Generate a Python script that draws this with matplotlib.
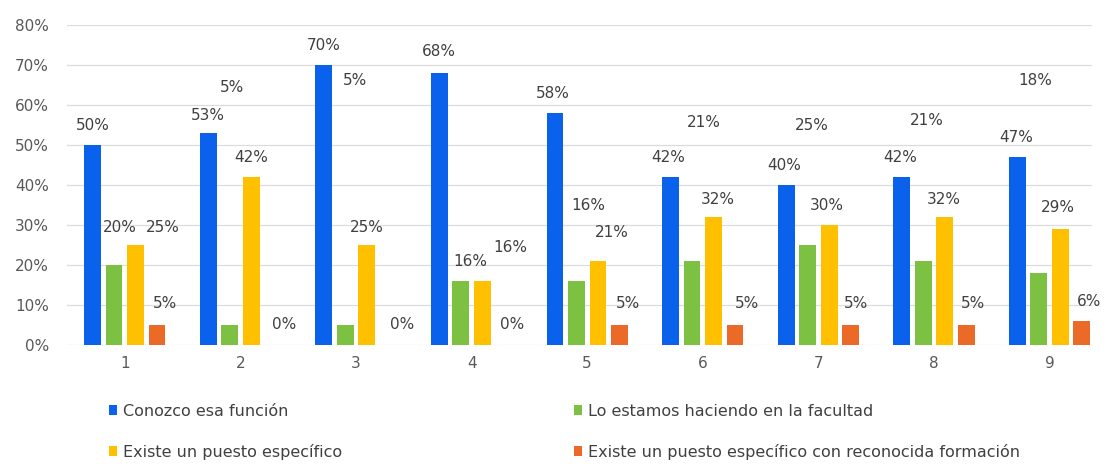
import matplotlib
matplotlib.use("Agg")
import matplotlib.pyplot as plt
from matplotlib.patches import Patch
import numpy as np

categories = ["1", "2", "3", "4", "5", "6", "7", "8", "9"]
series_names = [
    "Conozco esa función",
    "Lo estamos haciendo en la facultad",
    "Existe un puesto específico",
    "Existe un puesto específico con reconocida formación",
]
conozco = [0.50, 0.53, 0.70, 0.68, 0.58, 0.42, 0.40, 0.42, 0.47]
haciendo = [0.20, 0.05, 0.05, 0.16, 0.16, 0.21, 0.25, 0.21, 0.18]
puesto = [0.25, 0.42, 0.25, 0.16, 0.21, 0.32, 0.30, 0.32, 0.29]
formacion = [0.05, 0.00, 0.00, 0.00, 0.05, 0.05, 0.05, 0.05, 0.06]
yticks = [0.0, 0.1, 0.2, 0.3, 0.4, 0.5, 0.6, 0.7, 0.8]

colors = ["#0A62EC", "#7DC143", "#FFC000", "#EC6A28"]

# label offsets (pixels) relative to top-centre of each bar, as positioned in the source
label_dx = [
    [0, 0, 0, 0, -2, -2, -2, -2, -1],
    [6, 2, 10, 9, 12, 12, 4, 4, -4],
    [27, 0, 0, 28, 14, 4, -2, -1, -2],
    [8, 11, 14, 8, 9, 12, 5, 7, 7],
]
label_dy = [
    [20, 18, 20, 21, 20, 20, 20, 20, 20],
    [38, 238, 245, 20, 76, 139, 120, 141, 193],
    [18, 20, 18, 34, 29, 18, 20, 18, 22],
    [21, 21, 21, 21, 21, 21, 21, 21, 19],
]

W, H = 1106, 469
fig = plt.figure(figsize=(W / 100, H / 100), dpi=100)
ax = fig.add_axes([67 / W, 1 - 345 / H, (1092 - 67) / W, (345 - 25) / H])

series = [conozco, haciendo, puesto, formacion]
x = np.arange(1, len(categories) + 1)
pitch = 0.186
width = 0.145
txtcol = "#404040"
for i, vals in enumerate(series):
    pos = x + (i - 1.5) * pitch
    ax.bar(pos, vals, width=width, color=colors[i], zorder=3)
    for j, (p, v) in enumerate(zip(pos, vals)):
        ax.annotate(f"{v*100:.0f}%", (p, v), xytext=(label_dx[i][j], label_dy[i][j]),
                    textcoords="offset pixels", ha="center", va="center",
                    fontsize=11, color=txtcol, zorder=4)

ax.set_xlim(0.5, 9.367)
ax.set_ylim(0, 0.8)
ax.set_yticks(yticks)
ax.set_yticklabels([f"{t*100:.0f}%" for t in yticks])
ax.set_xticks(x)
ax.set_xticklabels(categories)
ax.tick_params(axis="y", length=0, pad=13, labelsize=11, labelcolor="#595959")
ax.tick_params(axis="x", length=0, pad=8, labelsize=11, labelcolor="#595959")
ax.grid(axis="y", color="#DCDCDC", linewidth=0.9, zorder=0)
for s in ax.spines.values():
    s.set_visible(False)

handles = [Patch(facecolor=c, edgecolor="none") for c in colors]
common = dict(loc="upper left", frameon=False, fontsize=11.5, handlelength=0.5,
              handleheight=0.6, handletextpad=0.4, labelspacing=1.55,
              borderpad=0, borderaxespad=0, labelcolor=txtcol)
fig.legend([handles[0], handles[2]], [series_names[0], series_names[2]],
           bbox_to_anchor=(109 / W, 1 - 404 / H), **common)
fig.legend([handles[1], handles[3]], [series_names[1], series_names[3]],
           bbox_to_anchor=(574 / W, 1 - 404 / H), **common)

fig.savefig("out.png", dpi=100)
